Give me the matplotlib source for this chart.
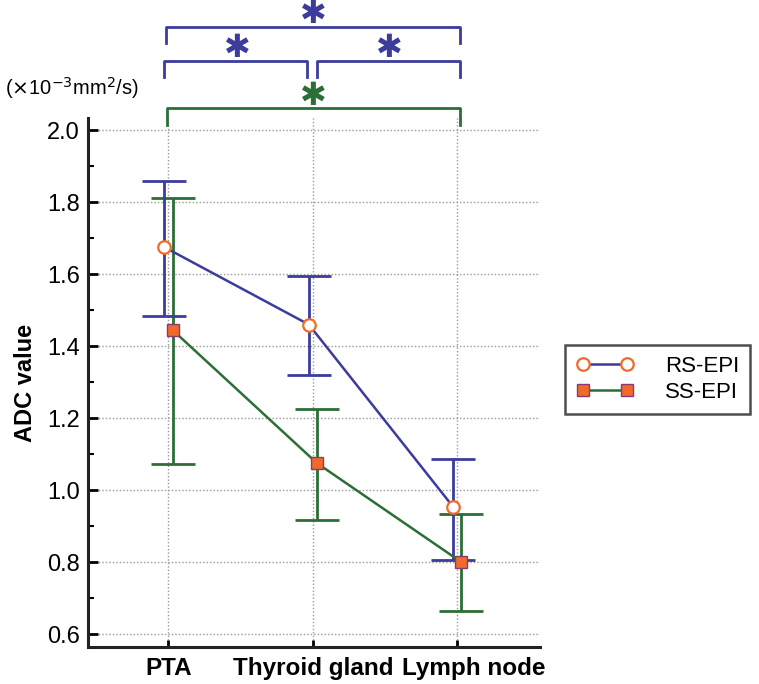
import numpy as np
import matplotlib
matplotlib.use("Agg")
import matplotlib.pyplot as plt
from matplotlib.ticker import MultipleLocator

plt.rcParams['font.family'] = ['Liberation Sans', 'DejaVu Sans']

# data
categories = ["PTA", "Thyroid gland", "Lymph node"]
rs_mean = [1.675, 1.46, 0.953]
rs_low = [1.485, 1.32, 0.806]
rs_high = [1.86, 1.595, 1.086]
ss_mean = [1.445, 1.075, 0.80]
ss_low = [1.073, 0.918, 0.663]
ss_high = [1.813, 1.225, 0.933]

blue = "#3b3c9c"
green = "#2b6f36"
orange = "#f26a2a"
purple = "#8a3a6e"

# significance brackets: (x0, x1, y_top, y_bottom, star_x, star_y, color)
brackets = [
    (-0.017, 2.02, 2.286, 2.242, 1.0, 2.322, blue),
    (-0.03, 0.96, 2.192, 2.147, 0.48, 2.226, blue),
    (1.03, 2.02, 2.192, 2.147, 1.53, 2.226, blue),
    (-0.01, 2.02, 2.061, 2.014, 1.0, 2.095, green),
]

fig = plt.figure(figsize=(7.59, 6.84), dpi=100)
ax = fig.add_axes([0.116, 0.054, 0.595, 0.773])

x = np.arange(len(categories))
off = 0.028

rs_err = [np.array(rs_mean) - np.array(rs_low), np.array(rs_high) - np.array(rs_mean)]
ss_err = [np.array(ss_mean) - np.array(ss_low), np.array(ss_high) - np.array(ss_mean)]

# error bars
ax.errorbar(x - off, rs_mean, yerr=rs_err, fmt='none', ecolor=blue, elinewidth=2.0,
            capsize=16, capthick=2.0, zorder=3)
ax.errorbar(x + off, ss_mean, yerr=ss_err, fmt='none', ecolor=green, elinewidth=2.0,
            capsize=16, capthick=2.0, zorder=2)

# mean lines with markers
ax.plot(x - off, rs_mean, color=blue, lw=1.8, marker='o', ms=9, mfc='white',
        mec=orange, mew=1.6, label="RS-EPI", zorder=4)
ax.plot(x + off, ss_mean, color=green, lw=1.8, marker='s', ms=8.5, mfc=orange,
        mec=purple, mew=1.0, label="SS-EPI", zorder=4)

ax.set_xlim(-0.557, 2.57)
ax.set_ylim(0.564, 2.033)
ax.set_xticks(x)
# last label sits a bit right of its tick in the reference, so it is drawn separately
ax.set_xticklabels(categories[:-1] + [""], fontsize=17.5, fontweight='bold')
ax.annotate(categories[-1], xy=(x[-1], 0), xycoords=ax.get_xaxis_transform(),
            xytext=(12, -7), textcoords='offset points', ha='center', va='top',
            fontsize=17.5, fontweight='bold', annotation_clip=False)
ax.set_yticks([0.6, 0.8, 1.0, 1.2, 1.4, 1.6, 1.8, 2.0])
ax.yaxis.set_minor_locator(MultipleLocator(0.1))
ax.tick_params(axis='y', which='major', direction='in', length=7, width=2,
               labelsize=17, pad=6)
ax.tick_params(axis='y', which='minor', direction='in', length=4, width=1.5)
ax.tick_params(axis='x', which='major', direction='in', length=5, width=2,
               labelsize=17.5, pad=7)
ax.set_ylabel("ADC value", fontsize=17, fontweight='bold', labelpad=7)

ax.grid(True, which='major', color='#999999', ls=(0, (1, 1.5)), lw=1.0)
ax.set_axisbelow(True)
for s in ['top', 'right']:
    ax.spines[s].set_visible(False)
for s in ['left', 'bottom']:
    ax.spines[s].set_linewidth(2.2)
    ax.spines[s].set_color('#222222')

for x0, x1, yt, yb, sx, sy, c in brackets:
    ax.plot([x0, x0, x1, x1], [yb, yt, yt, yb], color=c, lw=2.0, clip_on=False)
    ax.text(sx, sy, "\u2731", color=c, fontsize=23, ha='center', va='center',
            family='DejaVu Sans', clip_on=False)

fig.text(0.007, 0.871, r"($\times$10$^{-3}$mm$^2$/s)", fontsize=14.5, ha='left', va='center')

leg = ax.legend(loc='center', bbox_to_anchor=(0.8665, 0.4455), bbox_transform=fig.transFigure,
                fontsize=16, frameon=True, fancybox=False, edgecolor='#222222',
                numpoints=2, handlelength=2.6, borderpad=0.5, labelspacing=0.2,
                handletextpad=1.4, borderaxespad=0)
leg.get_frame().set_linewidth(1.8)

fig.savefig("out.png", dpi=100)
